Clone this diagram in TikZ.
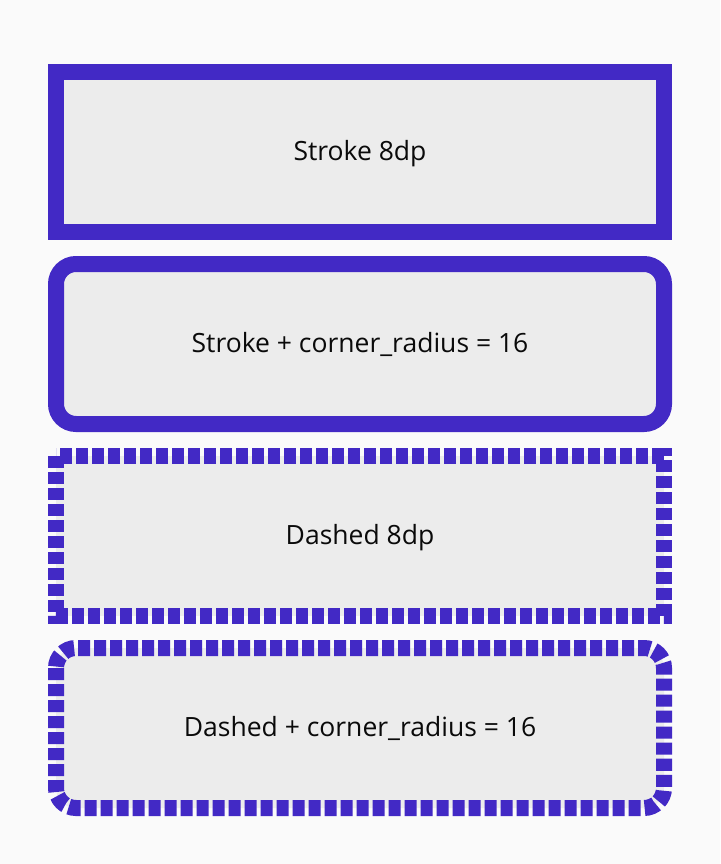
\documentclass[tikz,border=0pt]{standalone}
\usepackage{fontspec}
\setmainfont{Open Sans}
\definecolor{bgcol}{HTML}{FAFAFA}
\definecolor{fillcol}{HTML}{ECECEC}
\definecolor{strokecol}{HTML}{4229C5}
\definecolor{txtcol}{HTML}{0A0A0A}
\tikzset{
  box/.style={fill=fillcol, draw=strokecol, line width=16pt, line cap=butt, line join=miter},
  dashbox/.style={box, dash pattern=on 12pt off 4pt},
  lbl/.style={text=txtcol, font=\fontsize{26.5}{30}\selectfont, inner sep=0pt, anchor=base}
}
\begin{document}
\begin{tikzpicture}[x=1pt,y=-1pt]
\fill[bgcol] (0,0) rectangle (720,864);
\useasboundingbox (0,0) rectangle (720,864);
\draw[box] (56,72) rectangle (664,232);
\draw[box, rounded corners=20pt] (56,264) rectangle (664,424);
\draw[dashbox] (56,456) rectangle (664,616);
\draw[dashbox, rounded corners=20pt] (56,648) rectangle (664,808);
\node[lbl] (t1) at (360,160) {Stroke 8dp};
\node[lbl] (t2) at (360,352) {Stroke + corner\_radius = 16};
\node[lbl] (t3) at (360,544) {Dashed 8dp};
\node[lbl] (t4) at (360,736) {Dashed + corner\_radius = 16};
\end{tikzpicture}
\end{document}
